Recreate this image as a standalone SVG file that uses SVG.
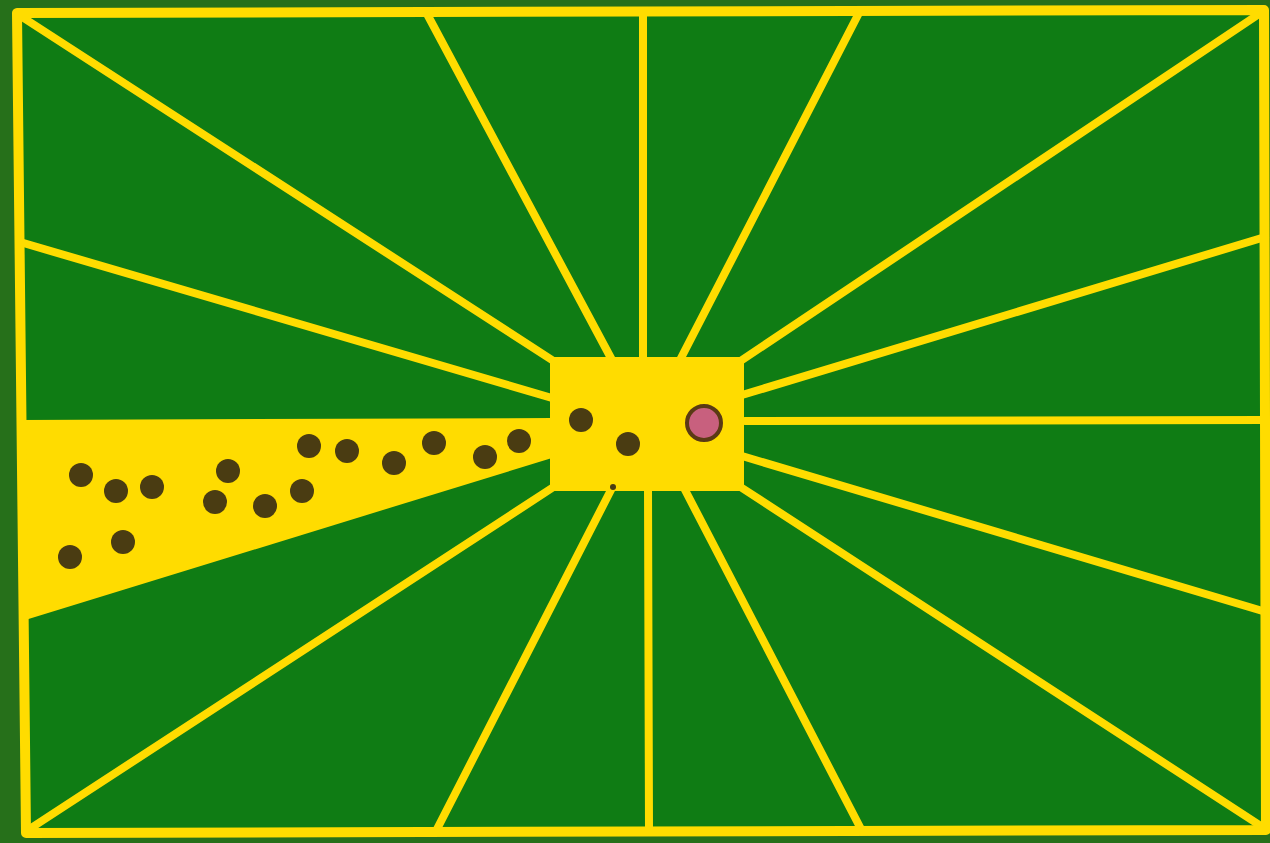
<svg xmlns="http://www.w3.org/2000/svg" width="1270" height="843" viewBox="0 0 1270 843">
<style>
.bg{fill:#26701a}
.field{fill:#0f7c14}
.frame{fill:none;stroke:#ffdc00;stroke-width:10;stroke-linejoin:round}
.ray{stroke:#ffdc00;stroke-width:8;stroke-linecap:round}
.yel{fill:#ffdc00}
.dot{fill:#4a3c12}
.pink{fill:#c8607e;stroke:#5a3a14;stroke-width:4}
</style>
<rect class="bg" x="0" y="0" width="1270" height="843"/>
<polygon class="field" points="17,13 1264,10 1266,830 26,833"/>
<g id="rays">
<line class="ray" x1="19" y1="15" x2="552" y2="360"/>
<line class="ray" x1="426" y1="12" x2="612" y2="360"/>
<line class="ray" x1="643" y1="11" x2="643" y2="360"/>
<line class="ray" x1="860" y1="11" x2="680" y2="360"/>
<line class="ray" x1="1262" y1="12" x2="742" y2="360"/>
<line class="ray" x1="20" y1="242" x2="552" y2="398"/>
<line class="ray" x1="1265" y1="237" x2="742" y2="395"/>
<line class="ray" x1="745" y1="421" x2="1265" y2="420"/>
<line class="ray" x1="1266" y1="612" x2="742" y2="456"/>
<line class="ray" x1="28" y1="830" x2="552" y2="488"/>
<line class="ray" x1="436" y1="831" x2="612" y2="488"/>
<line class="ray" x1="649" y1="831" x2="648" y2="488"/>
<line class="ray" x1="862" y1="831" x2="684" y2="488"/>
<line class="ray" x1="1264" y1="828" x2="742" y2="488"/>
</g>
<g id="wedge">
<polygon class="yel" points="20,420 552,418 552,458 22,621"/>
</g>
<g id="center">
<rect class="yel" x="550" y="357" width="194" height="134"/>
</g>
<polygon class="frame" points="17,13 1264,10 1266,830 26,833"/>
<g id="dots">
<circle class="dot" cx="81" cy="475" r="12"/>
<circle class="dot" cx="116" cy="491" r="12"/>
<circle class="dot" cx="152" cy="487" r="12"/>
<circle class="dot" cx="228" cy="471" r="12"/>
<circle class="dot" cx="215" cy="502" r="12"/>
<circle class="dot" cx="265" cy="506" r="12"/>
<circle class="dot" cx="302" cy="491" r="12"/>
<circle class="dot" cx="309" cy="446" r="12"/>
<circle class="dot" cx="347" cy="451" r="12"/>
<circle class="dot" cx="394" cy="463" r="12"/>
<circle class="dot" cx="434" cy="443" r="12"/>
<circle class="dot" cx="485" cy="457" r="12"/>
<circle class="dot" cx="519" cy="441" r="12"/>
<circle class="dot" cx="123" cy="542" r="12"/>
<circle class="dot" cx="70" cy="557" r="12"/>
<circle class="dot" cx="581" cy="420" r="12"/>
<circle class="dot" cx="628" cy="444" r="12"/>
<circle class="dot" cx="613" cy="487" r="3"/>
</g>
<g id="target">
<circle class="pink" cx="704" cy="423" r="17"/>
</g>
</svg>
